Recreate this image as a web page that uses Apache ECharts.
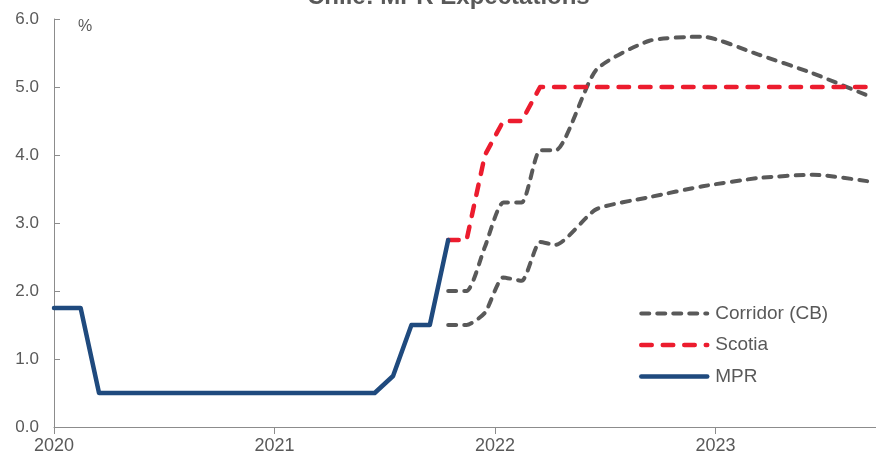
<!DOCTYPE html>
<html>
<head>
<meta charset="utf-8">
<script src="https://cdn.jsdelivr.net/npm/echarts@6/dist/echarts.min.js"></script>
<style>
  html, body { margin: 0; padding: 0; background: #ffffff; }
  #chart { width: 876px; height: 456px; }
</style>
</head>
<body>
<div id="chart"></div>
<script>
// Time runs in months counted from January 2020; one tick per calendar year.
const yearTicks = [0, 12, 24, 36];
const yearLabels = ['2020', '2021', '2022', '2023'];
const yTickLabels = ['0.0', '1.0', '2.0', '3.0', '4.0', '5.0', '6.0'];

// Monetary policy rate (%)
const mprT = [0, 1.45, 2.45, 3.45, 4.45, 5.45, 6.45, 7.45, 8.45, 9.45, 10.45, 11.45,
              12.45, 13.45, 14.45, 15.45, 16.45, 17.45, 18.45, 19.45, 20.45, 21.45];
const mprV = [1.75, 1.75, 0.5, 0.5, 0.5, 0.5, 0.5, 0.5, 0.5, 0.5, 0.5, 0.5,
              0.5, 0.5, 0.5, 0.5, 0.5, 0.5, 0.75, 1.5, 1.5, 2.75];

// Scotia forecast path (%)
const scotiaT = [21.45, 22.45, 23.45, 24.45, 25.45, 26.45, 29.45, 32.45, 35.45, 38.45, 41.45, 44.7];
const scotiaV = [2.75, 2.75, 4.0, 4.5, 4.5, 5.0, 5.0, 5.0, 5.0, 5.0, 5.0, 5.0];

// Central bank corridor, upper and lower bounds (%)
const corridorT = [21.45, 22.45, 23.45, 24.45, 25.45, 26.45, 27.3, 29.5, 32.4, 35.3, 38.3, 41.3, 44.4];
const corridorHighV = [2.0, 2.0, 2.65, 3.3, 3.3, 4.07, 4.07, 5.25, 5.68, 5.74, 5.48, 5.2, 4.86];
const corridorLowV  = [1.5, 1.5, 1.68, 2.2, 2.15, 2.72, 2.68, 3.2, 3.38, 3.54, 3.66, 3.71, 3.61];

const TEXT = '#595959';
const AXIS = '#8c8c8c';
const FONT = 'Liberation Sans, Arial, sans-serif';

const pairs = (t, v) => t.map((x, i) => [x, v[i]]);

const chart = echarts.init(document.getElementById('chart'), null, { renderer: 'canvas' });

const corridorStyle = { color: '#595959', width: 4, type: [8, 8], cap: 'round', join: 'round' };
const scotiaStyle = { color: '#EC1C2E', width: 4.5, type: [10.5, 11], cap: 'round', join: 'round' };
const mprStyle = { color: '#1F4A7E', width: 4.5, type: 'solid', cap: 'round', join: 'round' };

chart.setOption({
  animation: false,
  backgroundColor: '#ffffff',
  title: {
    text: 'Chile: MPR Expectations',
    left: 307,
    top: -15,
    padding: 0,
    textStyle: { fontFamily: FONT, fontSize: 24, fontWeight: 'bold', color: TEXT }
  },
  graphic: [{
    type: 'text',
    left: 78,
    top: 19,
    style: { text: '%', font: '16px ' + FONT, fill: TEXT }
  }],
  legend: {
    orient: 'vertical',
    left: 639,
    top: 304,
    itemWidth: 66,
    itemHeight: 19,
    itemGap: 12.5,
    padding: 0,
    // keys show the line style only, without a marker
    itemStyle: { opacity: 0 },
    lineStyle: { width: 'inherit' },
    textStyle: { fontFamily: FONT, fontSize: 19, lineHeight: 19, color: TEXT, padding: [0, 0, 0, 3] },
    data: ['Corridor (CB)', 'Scotia', 'MPR']
  },
  grid: { left: 54, right: 0, top: 19, bottom: 29, containLabel: false, outerBoundsMode: 'none' },
  xAxis: {
    type: 'value',
    min: 0,
    max: 44.73,
    axisLine: { show: true, lineStyle: { color: AXIS, width: 1 } },
    axisTick: { show: true, customValues: yearTicks, length: 7, lineStyle: { color: AXIS } },
    axisLabel: {
      customValues: yearTicks,
      formatter: v => yearLabels[yearTicks.indexOf(v)],
      fontFamily: FONT, fontSize: 18, color: TEXT, margin: 10
    },
    splitLine: { show: false }
  },
  yAxis: {
    type: 'value',
    min: 0,
    max: 6,
    interval: 1,
    axisLine: { show: true, lineStyle: { color: AXIS, width: 1 } },
    axisTick: { show: true, inside: true, length: 6, lineStyle: { color: AXIS } },
    axisLabel: {
      formatter: v => yTickLabels[Math.round(v)],
      fontFamily: FONT, fontSize: 17, color: TEXT, margin: 15
    },
    splitLine: { show: false }
  },
  series: [
    {
      name: 'Corridor (CB)', type: 'line', symbol: 'none', smooth: 0.2,
      lineStyle: corridorStyle, itemStyle: { color: corridorStyle.color },
      data: pairs(corridorT, corridorHighV)
    },
    {
      name: 'Corridor (CB)', type: 'line', symbol: 'none', smooth: 0.2,
      lineStyle: corridorStyle, itemStyle: { color: corridorStyle.color },
      data: pairs(corridorT, corridorLowV)
    },
    {
      name: 'Scotia', type: 'line', symbol: 'none',
      lineStyle: scotiaStyle, itemStyle: { color: scotiaStyle.color },
      data: pairs(scotiaT, scotiaV)
    },
    {
      name: 'MPR', type: 'line', symbol: 'none',
      lineStyle: mprStyle, itemStyle: { color: mprStyle.color },
      data: pairs(mprT, mprV)
    }
  ]
});
</script>
</body>
</html>
